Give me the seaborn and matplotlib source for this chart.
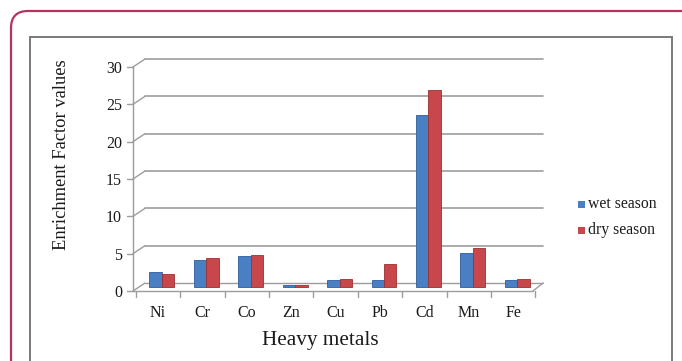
import matplotlib
matplotlib.use("Agg")
import matplotlib.pyplot as plt
import seaborn as sns
import pandas as pd
from matplotlib.patches import FancyBboxPatch, Rectangle
from matplotlib.lines import Line2D
from matplotlib.transforms import ScaledTranslation

metals = ["Ni", "Cr", "Co", "Zn", "Cu", "Pb", "Cd", "Mn", "Fe"]
wet_season = [2.0, 3.6, 4.1, 0.3, 0.9, 1.0, 23.0, 4.5, 1.0]
dry_season = [1.8, 3.9, 4.3, 0.3, 1.1, 3.1, 26.4, 5.2, 1.1]
season_names = ["wet season", "dry season"]
y_ticks = [0, 5, 10, 15, 20, 25, 30]

df = pd.DataFrame({
    "metal": metals * 2,
    "value": wet_season + dry_season,
    "season": [season_names[0]] * len(metals) + [season_names[1]] * len(metals),
})

sns.set_theme(style="white")
plt.rcParams["font.family"] = ["Liberation Serif", "DejaVu Serif"]

W, H = 682, 361
fig = plt.figure(figsize=(W / 100, H / 100), dpi=100)
fig.patch.set_facecolor("white")

ftrans = fig.transFigure
def fx(px):
    return px / W
def fy(py):
    return 1 - py / H

# outer rounded frame and inner chart box
frame = FancyBboxPatch((fx(11), fy(420)), fx(700), 409 / H,
                       boxstyle="round,pad=0,rounding_size=0.025",
                       transform=ftrans, facecolor="none",
                       edgecolor="#b3345f", linewidth=1.6, clip_on=False,
                       mutation_aspect=W / H)
fig.patches.append(frame)
inner = Rectangle((fx(30), fy(380)), fx(672 - 30), (380 - 37) / H,
                  transform=ftrans, facecolor="none", edgecolor="#6f6f6f",
                  linewidth=1.3, clip_on=False)
fig.patches.append(inner)

# plot area: front axis at x=133, right end at 543, y 0->291, 30->67
ax_left, ax_right = 133, 543
y0_px, y30_px = 291, 67
ax = fig.add_axes([fx(ax_left), fy(y0_px), fx(ax_right - ax_left),
                   (y0_px - y30_px) / H])
ax.set_facecolor("none")

palette = {"wet season": "#4a7fc4", "dry season": "#c8474a"}
sns.barplot(data=df, x="metal", y="value", hue="season", order=metals,
            hue_order=season_names, palette=palette, width=0.56,
            linewidth=0.6, saturation=1, legend=False, ax=ax)
# columns stand half-way into the depth of the floor
depth_shift = ScaledTranslation(4 / 100, 4 / 100, fig.dpi_scale_trans)
for i, patch in enumerate(ax.patches):
    patch.set_edgecolor("#2d5d9c" if i < len(metals) else "#9b3030")
    patch.set_transform(ax.transData + depth_shift)
    patch.set_zorder(3)

ax.set_xlim(-0.56, 8.67)
ax.set_ylim(0, 30)
ax.set_yticks(y_ticks)
ax.set_yticklabels([str(t) for t in y_ticks], fontsize=11.5, color="#1a1a1a")
ax.set_xticks(range(len(metals)))
ax.set_xticklabels(metals, fontsize=11.5, color="#1a1a1a")
ax.tick_params(axis="x", length=0, pad=10)
ax.tick_params(axis="y", length=0, pad=8)
for s in ["top", "right", "bottom"]:
    ax.spines[s].set_visible(False)
ax.spines["left"].set_color("#9a9a9a")
ax.spines["left"].set_linewidth(1.0)

# back wall gridlines drawn with a perspective offset
grid_c = "#9d9d9d"
yt = ax.get_yaxis_transform()
dx_ax = 12 / (ax_right - ax_left)
dy_val = 8 / (y0_px - y30_px) * 30
tick_ax = 6 / (ax_right - ax_left)
for v in y_ticks:
    if v == 0:
        continue
    ax.add_line(Line2D([0, dx_ax], [v, v + dy_val], transform=yt,
                       color=grid_c, lw=1.0, clip_on=False, zorder=0))
    ax.add_line(Line2D([dx_ax, 1], [v + dy_val, v + dy_val], transform=yt,
                       color=grid_c, lw=1.2, clip_on=False, zorder=0))
    ax.add_line(Line2D([-tick_ax, 0], [v, v], transform=yt,
                       color=grid_c, lw=1.0, clip_on=False))
# floor outline
floor_end = 1 - 10 / (ax_right - ax_left)
ax.add_line(Line2D([-tick_ax, floor_end], [0, 0], transform=yt,
                   color=grid_c, lw=1.0, clip_on=False, zorder=0))
ax.add_line(Line2D([0, dx_ax], [0, dy_val], transform=yt,
                   color=grid_c, lw=1.0, clip_on=False, zorder=0))
ax.add_line(Line2D([dx_ax, 1], [dy_val, dy_val], transform=yt,
                   color=grid_c, lw=1.0, clip_on=False, zorder=0))
ax.add_line(Line2D([floor_end, 1], [0, dy_val], transform=yt,
                   color=grid_c, lw=1.0, clip_on=False, zorder=0))
xt = ax.get_xaxis_transform()
for k in range(len(metals) + 1):
    xb = k - 0.5
    ax.add_line(Line2D([xb, xb], [0, -6 / (y0_px - y30_px)], transform=xt,
                       color=grid_c, lw=1.0, clip_on=False))

ax.set_xlabel("")
ax.set_ylabel("")
fig.text(fx(61), fy(155), "Enrichment Factor values", rotation=90,
         ha="center", va="center", fontsize=13.3, color="#1a1a1a")
fig.text(fx(320), fy(341), "Heavy metals", ha="center", va="center",
         fontsize=15.3, color="#1a1a1a")

# legend
for j, name in enumerate(season_names):
    ly = 204 + j * 26
    fig.patches.append(Rectangle((fx(578), fy(ly + 4)), fx(7), 7 / H,
                                 transform=ftrans, facecolor=palette[name],
                                 edgecolor="none"))
    fig.text(fx(588), fy(ly), name, ha="left", va="center", fontsize=11.3,
             color="#1a1a1a")

fig.savefig("out.png", dpi=100, facecolor="white")
